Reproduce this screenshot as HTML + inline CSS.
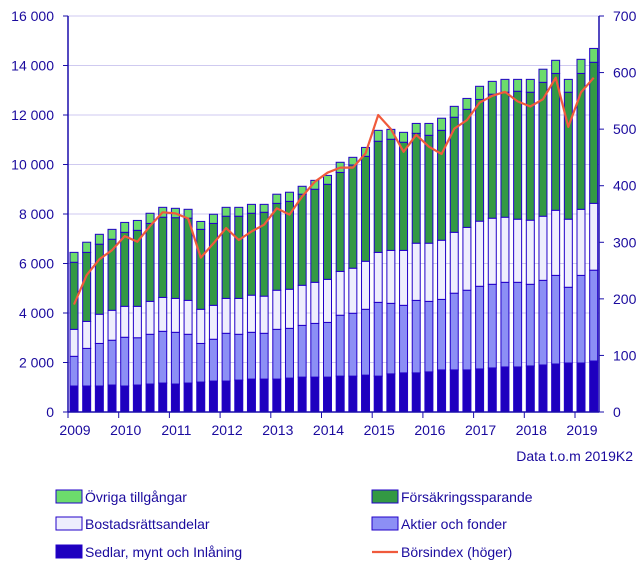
<!DOCTYPE html>
<html><head><meta charset="utf-8">
<style>
body{margin:0;background:#fff;font-family:"Liberation Sans",sans-serif;}
svg text{font-family:"Liberation Sans",sans-serif;fill:#1a0a9e;font-size:14px;}
</style></head>
<body>
<svg id="chart" width="644" height="568" xmlns="http://www.w3.org/2000/svg"></svg>
<script>
const years = ["2009","2010","2011","2012","2013","2014","2015","2016","2017","2018","2019"];
const leftTicks = [0,2000,4000,6000,8000,10000,12000,14000,16000];
const leftTickLabels = ["0","2 000","4 000","6 000","8 000","10 000","12 000","14 000","16 000"];
const rightTicks = [0,100,200,300,400,500,600,700];
const sedlar = [1.05,1.05,1.05,1.09,1.05,1.09,1.13,1.17,1.13,1.17,1.21,1.25,1.25,1.29,1.33,1.33,1.33,1.37,1.41,1.41,1.41,1.45,1.45,1.49,1.45,1.54,1.58,1.58,1.62,1.70,1.70,1.70,1.74,1.78,1.82,1.82,1.86,1.90,1.94,1.98,1.98,2.06];
const aktier = [1.20,1.52,1.72,1.81,1.97,1.91,2.01,2.09,2.09,1.97,1.56,1.69,1.93,1.85,1.89,1.85,2.01,2.01,2.09,2.17,2.21,2.46,2.54,2.66,2.98,2.85,2.73,2.93,2.85,2.85,3.10,3.22,3.34,3.38,3.42,3.42,3.30,3.42,3.58,3.06,3.54,3.67];
const bostad = [1.09,1.09,1.18,1.21,1.25,1.27,1.33,1.37,1.37,1.37,1.38,1.37,1.41,1.45,1.50,1.50,1.58,1.58,1.62,1.66,1.74,1.77,1.82,1.94,2.02,2.14,2.22,2.31,2.35,2.39,2.46,2.54,2.63,2.67,2.63,2.55,2.59,2.59,2.63,2.75,2.67,2.70];
const forsakring = [2.71,2.79,2.83,2.87,2.99,3.07,3.15,3.24,3.26,3.32,3.23,3.31,3.32,3.32,3.31,3.39,3.51,3.55,3.68,3.76,3.84,4.00,4.17,4.24,4.49,4.49,4.37,4.44,4.36,4.44,4.65,4.77,4.92,5.01,5.05,5.17,5.17,5.41,5.53,5.13,5.49,5.70];
const ovriga = [0.40,0.41,0.40,0.40,0.40,0.40,0.41,0.40,0.38,0.36,0.32,0.37,0.36,0.36,0.36,0.32,0.37,0.37,0.32,0.36,0.36,0.41,0.31,0.36,0.44,0.40,0.40,0.40,0.48,0.49,0.44,0.44,0.53,0.52,0.52,0.48,0.52,0.53,0.53,0.52,0.57,0.56];
const borsindex = [190,242,270,286,311,301,329,353,351,342,273,298,325,304,319,331,360,349,381,407,423,432,432,457,525,500,460,490,469,456,501,516,547,559,566,549,540,553,591,504,565,591];

const NS="http://www.w3.org/2000/svg";
const svg=document.getElementById('chart');
function mk(t,a,p){const e=document.createElementNS(NS,t);for(const k in a)e.setAttribute(k,a[k]);(p||svg).appendChild(e);return e;}
const X0=68,X1=599,Y0=412,Y1=16,yearW=50.7,qW=yearW/4;
const yL=v=>Y0-(v/16000)*(Y0-Y1);
const yR=v=>Y0-(v/700)*(Y0-Y1);
const xC=i=>X0+6+i*qW;

// grid
leftTicks.forEach((t,i)=>{
  if(t>0){const g=mk('line',{x1:X0,x2:X1,y1:yL(t),y2:yL(t),stroke:'#cfcaf0','stroke-width':1});
  }
  const tk=mk('line',{x1:X0-5,x2:X0,y1:yL(t),y2:yL(t),stroke:'#1a0dab'});
  
  const tx=mk('text',{x:X0-14,y:yL(t)+5,'text-anchor':'end'});tx.textContent=leftTickLabels[i];
  
});
rightTicks.forEach(t=>{
  const tk=mk('line',{x1:X1,x2:X1+5,y1:yR(t),y2:yR(t),stroke:'#1a0dab'});
  
  const tx=mk('text',{x:X1+14,y:yR(t)+5});tx.textContent=String(t);
  
});
years.forEach((y,i)=>{
  const x=X0+i*yearW;
  const tk=mk('line',{x1:x,x2:x,y1:Y0,y2:Y0+6,stroke:'#1a0dab'});
  
  const tx=mk('text',{x:x+7,y:Y0+23,'text-anchor':'middle'});tx.textContent=y;
  
});

// bars
const series=[[sedlar,'#1e00bf','sedlar'],[aktier,'#8c8ff5','aktier'],[bostad,'#eeeefd','bostad'],[forsakring,'#339944','forsakring'],[ovriga,'#6cdc6c','ovriga']];
sedlar.forEach((_,i)=>{
  let cum=0;
  series.forEach(([arr,col,nm])=>{
    const v=arr[i]*1000;
    const yt=yL(cum+v),yb=yL(cum);
    const r=mk('rect',{x:xC(i)-4,y:yt,width:8,height:yb-yt,fill:col,stroke:'#2200c8','stroke-width':1});
    
    cum+=v;
  });
});
// axes
const ax1=mk('line',{x1:X0,x2:X0,y1:Y1,y2:Y0,stroke:'#1a0dab','stroke-width':1.5});

const ax2=mk('line',{x1:X1,x2:X1,y1:Y1,y2:Y0,stroke:'#1a0dab','stroke-width':1.5});

const ax3=mk('line',{x1:X0,x2:X1,y1:Y0,y2:Y0,stroke:'#1a0dab','stroke-width':1.5});


// line
const pts=borsindex.map((v,i)=>xC(i).toFixed(1)+','+yR(v).toFixed(1)).join(' ');
const pl=mk('polyline',{points:pts,fill:'none',stroke:'#f05a3c','stroke-width':2.2,'stroke-linejoin':'round'});


const cap=mk('text',{x:633,y:461,'text-anchor':'end'});cap.textContent='Data t.o.m 2019K2';


// legend
const leg=[[56,497,'#6cdc6c','Övriga tillgångar','rect'],[372,497,'#339944','Försäkringssparande','rect'],
[56,524,'#eeeefd','Bostadsrättsandelar','rect'],[372,524,'#8c8ff5','Aktier och fonder','rect'],
[56,552,'#1e00bf','Sedlar, mynt och Inlåning','rect'],[372,552,'#f05a3c','Börsindex (höger)','line']];
leg.forEach(([x,y,c,l,t])=>{
  const g=mk('g',{});
  
  if(t==='rect'){mk('rect',{x:x,y:y-7,width:26,height:13,fill:c,stroke:'#2200c8','stroke-width':1},g);}
  else{mk('line',{x1:x,x2:x+26,y1:y,y2:y,stroke:c,'stroke-width':2.2},g);}
  const tx=mk('text',{x:x+29,y:y+5},g);tx.textContent=l;
});
</script>
</body></html>
